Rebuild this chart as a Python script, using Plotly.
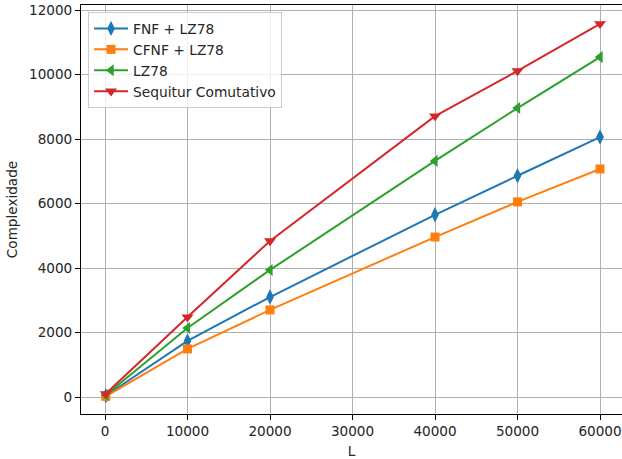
import plotly.graph_objects as go

L = [100, 10000, 20000, 40000, 50000, 60000]
fnf_lz78 = [40, 1740, 3100, 5650, 6860, 8060]
cfnf_lz78 = [20, 1490, 2700, 4960, 6050, 7070]
lz78 = [60, 2140, 3940, 7320, 8960, 10540]
sequitur = [100, 2480, 4840, 8710, 10110, 11570]

series = [
    ("FNF + LZ78", fnf_lz78, "#1f77b4", "diamond-tall", 11),
    ("CFNF + LZ78", cfnf_lz78, "#ff7f0e", "square", 9),
    ("LZ78", lz78, "#2ca02c", "triangle-left", 10.5),
    ("Sequitur Comutativo", sequitur, "#d62728", "triangle-down", 10.5),
]

fig = go.Figure()
for name, ys, color, sym, msize in series:
    fig.add_trace(go.Scatter(
        x=L, y=ys, name=name, mode="lines+markers",
        line=dict(color=color, width=2),
        marker=dict(symbol=sym, size=msize, color=color),
    ))

tfont = dict(family="DejaVu Sans", size=13.6, color="#262626")
lfont = dict(family="DejaVu Sans", size=13.8, color="#262626")
fig.update_layout(
    width=622, height=459,
    margin=dict(l=81, r=0, t=5, b=45, autoexpand=False),
    paper_bgcolor="white", plot_bgcolor="white",
    font=tfont,
    showlegend=True,
    legend=dict(x=0.013, y=0.983, xanchor="left", yanchor="top",
                bgcolor="rgba(255,255,255,0.8)", bordercolor="#cccccc", borderwidth=1,
                font=lfont, tracegroupgap=0, itemwidth=34),
    xaxis=dict(range=[-2909, 62667], tickvals=[0, 10000, 20000, 30000, 40000, 50000, 60000],
               ticktext=["0", "10000", "20000", "30000", "40000", "50000", "60000"],
               showgrid=True, gridcolor="#b0b0b0", gridwidth=0.8,
               showline=True, linecolor="black", linewidth=1, mirror=True,
               ticks="outside", ticklen=5, tickcolor="black", zeroline=False,
               automargin=False, tickfont=tfont,
               title=dict(text="L", standoff=8, font=tfont)),
    yaxis=dict(range=[-527, 12155], tickvals=[0, 2000, 4000, 6000, 8000, 10000, 12000],
               ticktext=["0", "2000", "4000", "6000", "8000", "10000", "12000"],
               showgrid=True, gridcolor="#b0b0b0", gridwidth=0.8,
               showline=True, linecolor="black", linewidth=1,
               ticks="outside", ticklen=5, tickcolor="black", zeroline=False,
               automargin=False, tickfont=tfont,
               title=dict(text="Complexidade", standoff=8, font=tfont)),
)
fig.write_html("out.html", config={"displayModeBar": False},
               post_script="document.body.style.margin='0';document.body.style.overflow='hidden';")
